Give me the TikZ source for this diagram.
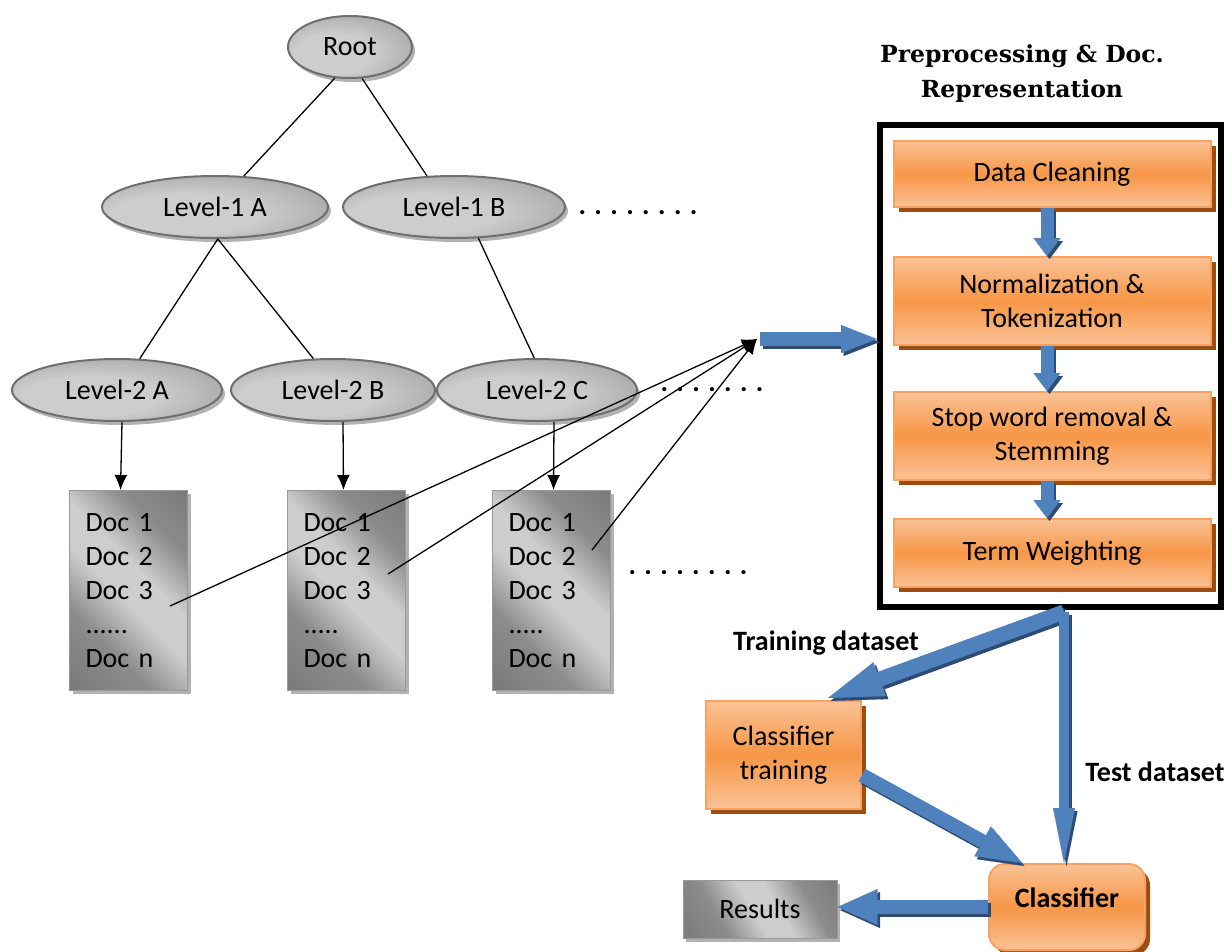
\documentclass[tikz,border=0pt]{standalone}
\usepackage{fontspec}
\setmainfont{Carlito}
\newfontfamily\titlefont{DejaVu Serif}
\usetikzlibrary{arrows.meta,shapes.geometric,shadows,calc}

\definecolor{orlight}{HTML}{FAC296}
\definecolor{ormid}{HTML}{F79646}
\definecolor{oredge}{HTML}{F7A262}
\definecolor{orshadow}{HTML}{9E4D10}
\definecolor{blmain}{HTML}{4F81BD}
\definecolor{blshadow}{HTML}{2E4B73}
\definecolor{ovdark}{HTML}{828282}
\definecolor{grdark}{HTML}{6A6A6A}
\definecolor{grmid}{HTML}{8C8C8C}
\definecolor{grlight}{HTML}{CDCDCD}
\definecolor{gredge}{HTML}{6E6E6E}
\definecolor{grshadow}{HTML}{B2B2B2}

\pgfdeclareradialshading{ovalshade}{\pgfpoint{-10bp}{-8bp}}{color(0bp)=(grlight); color(16bp)=(grlight); color(50bp)=(ovdark)}
\pgfdeclarehorizontalshading{docshade}{100bp}{color(0bp)=(grdark); color(33bp)=(grmid); color(47bp)=(grlight); color(57bp)=(grlight); color(70bp)=(grmid); color(100bp)=(grdark)}

\begin{document}
\begin{tikzpicture}[x=1pt,y=-1pt,
  txt/.style={font=\fontsize{28}{34}\selectfont},
  boldtxt/.style={font=\fontsize{28}{34}\selectfont\bfseries},
  oval/.style={ellipse, draw=gredge, line width=2pt, inner sep=0pt, shade, shading=ovalshade,
    drop shadow={shadow xshift=3pt, shadow yshift=-4pt, fill=grshadow, opacity=1}, txt},
  docbox/.style={rectangle, draw=gredge!70!white, line width=1pt, shade, shading=docshade, shading angle=45,
    txt, align=left, text width=86pt, inner xsep=16pt, inner ysep=23pt, anchor=north west,
    drop shadow={shadow xshift=3pt, shadow yshift=-3pt, fill=grshadow, opacity=1}},
  greybox/.style={rectangle, draw=gredge!70!white, line width=1pt, shade, shading=docshade, shading angle=30,
    txt, inner sep=0pt, drop shadow={shadow xshift=3pt, shadow yshift=-4pt, fill=grshadow, opacity=1}},
  orbox/.style={rectangle, draw=oredge, line width=2pt, top color=orlight, bottom color=orlight, middle color=ormid,
    drop shadow={shadow xshift=5pt, shadow yshift=-5pt, fill=orshadow, opacity=1}, txt, align=center, inner sep=0pt},
  treeline/.style={draw=black, line width=1.3pt},
  thinarrow/.style={draw=black, line width=1.3pt, -{Latex[length=15pt,width=13pt]}},
  barrow/.style n args={3}{draw=blmain, line width=#1, -{Triangle[length=#2,width=#3,line width=0.1pt]},
    preaction={draw=blshadow, line width=#1, -{Triangle[length=#2,width=#3,line width=0.1pt]},
      transform canvas={xshift=2.5pt,yshift=-3pt}}},
  dotrow/.style={font=\fontsize{28}{34}\selectfont\bfseries, inner sep=0pt}
]
\useasboundingbox (0,0) rectangle (1231,951);

% ---- category tree ----
\node[oval, minimum width=124pt, minimum height=62pt] (root) at (350,47) {Root};
\node[oval, minimum width=226pt, minimum height=62pt] (l1a) at (215,207) {Level-1 A};
\node[oval, minimum width=222pt, minimum height=62pt] (l1b) at (454,207) {Level-1 B};
\node[oval, minimum width=210pt, minimum height=62pt] (l2a) at (117,390) {Level-2 A};
\node[oval, minimum width=204pt, minimum height=62pt] (l2b) at (333,390) {Level-2 B};
\node[oval, minimum width=200pt, minimum height=62pt] (l2c) at (537,390) {Level-2 C};

\draw[treeline] (root.-116) -- (l1a.47);
\draw[treeline] (root.-69) -- (l1b.131);
\draw[treeline] (l1a.-85) -- (l2a.54);
\draw[treeline] (l1a.-85) -- (l2b.122);
\draw[treeline] (l1b.-52) -- (l2c.95);

\node[dotrow] (dots1) at (638,213) {. . . . . . . .};
\node[dotrow] (dots2) at (712,390) {. . . . . . .};
\node[dotrow] (dots3) at (688,573) {. . . . . . . .};

% ---- document lists ----
\node[docbox] (doc1) at (69,490) {Doc 1\\Doc 2\\Doc 3\\......\\Doc n};
\node[docbox] (doc2) at (287,490) {Doc 1\\Doc 2\\Doc 3\\.....\\Doc n};
\node[docbox] (doc3) at (492,490) {Doc 1\\Doc 2\\Doc 3\\.....\\Doc n};

\draw[thinarrow] ([xshift=5pt]l2a.south) -- ([xshift=-8pt]doc1.north);
\draw[thinarrow] ([xshift=10pt]l2b.south) -- ([xshift=-3pt]doc2.north);
\draw[thinarrow] ([xshift=17pt]l2c.south) -- ([xshift=2pt]doc3.north);

\coordinate (hub) at (757,339);
\coordinate (s1) at (170,606);
\coordinate (s2) at (388,574);
\coordinate (s3) at (592,550);
\draw[thinarrow] (s1) -- (hub);
\draw[thinarrow] (s2) -- (hub);
\draw[thinarrow] (s3) -- (hub);

% ---- preprocessing pipeline ----
\node[font=\titlefont\bfseries\fontsize{23.5}{35}\selectfont, align=center] (title) at (1022,74)
  {Preprocessing \& Doc.\\Representation};

\node[draw=black, line width=6pt, fill=white, minimum width=341pt, minimum height=482pt, inner sep=0pt]
  (frame) at (1050.5,366) {};

\node[orbox, minimum width=317pt, minimum height=66pt] (dc) at (1052,174) {Data Cleaning};
\node[orbox, minimum width=317pt, minimum height=88pt] (nt) at (1052,301) {Normalization \&\\Tokenization};
\node[orbox, minimum width=317pt, minimum height=88pt] (sw) at (1052,436) {Stop word removal \&\\Stemming};
\node[orbox, minimum width=317pt, minimum height=68pt] (tw) at (1052,553) {Term Weighting};

\draw[barrow={13pt}{18pt}{27pt}] ([xshift=-5pt]dc.south) -- ([xshift=-5pt]nt.north);
\draw[barrow={13pt}{18pt}{27pt}] ([xshift=-5pt]nt.south) -- ([xshift=-5pt]sw.north);
\draw[barrow={13pt}{18pt}{27pt}] ([xshift=-5pt]sw.south) -- ([xshift=-5pt]tw.north);

\draw[barrow={14pt}{36pt}{28pt}] ([xshift=3pt]hub) -- (hub -| frame.west);

% ---- classification ----
\node[orbox, minimum width=155pt, minimum height=108pt] (cltrain) at (783.5,755) {Classifier\\training};
\node[orbox, rounded corners=16pt, minimum width=156pt, minimum height=86pt, boldtxt,
  text height=20pt, text depth=20pt] (cls) at (1067,907) {Classifier};
\node[greybox, minimum width=154pt, minimum height=58pt] (results) at (760,909) {Results};

\coordinate (split) at (1064,612);
\draw[barrow={15pt}{55pt}{36pt}] (split) -- ([xshift=-34pt,yshift=2pt]cltrain.north east);
\draw[barrow={10pt}{55pt}{22pt}] (split) -- (split |- cls.north);
\draw[barrow={14pt}{45pt}{34pt}] ([yshift=-20pt]cltrain.east) -- ([xshift=-45pt]cls.north);
\draw[barrow={14pt}{40pt}{36pt}] (cls.west) -- (cls.west -| results.east);

\node[boldtxt] (trainlbl) at (826,643) {Training dataset};
\node[boldtxt] (testlbl) at (1155,772) {Test dataset};
\end{tikzpicture}
\end{document}
